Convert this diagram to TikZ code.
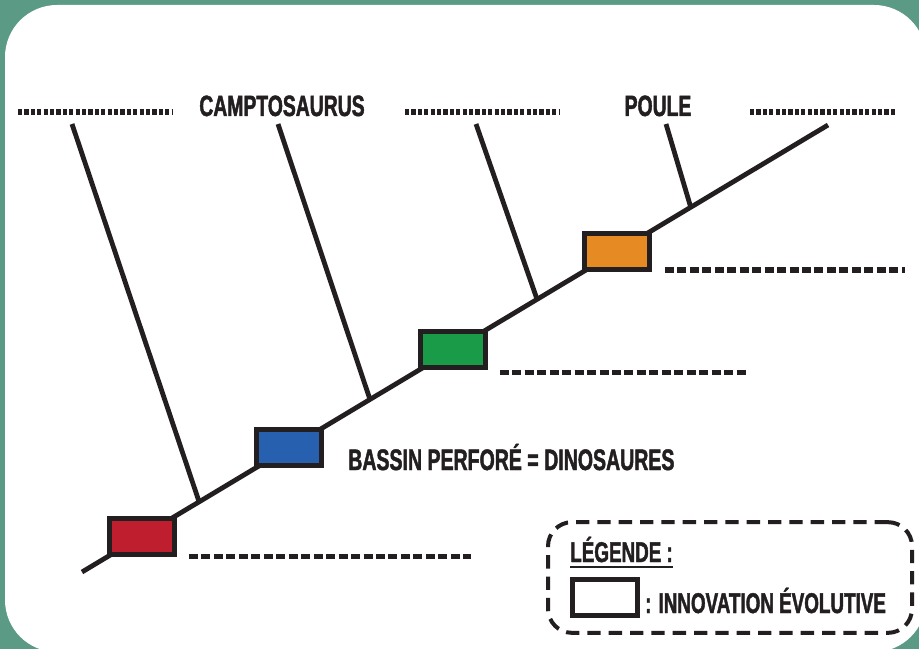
\documentclass[tikz,border=0pt]{standalone}
\usepackage{fontspec}
\newfontfamily\labelfont{Liberation Sans}[FakeStretch=0.66,FakeBold=1.5]
\usetikzlibrary{calc,positioning}
\definecolor{bggreen}{HTML}{5B9A85}
\definecolor{ink}{HTML}{231F20}
\definecolor{redbox}{HTML}{BE1E2D}
\definecolor{bluebox}{HTML}{2660AE}
\definecolor{greenbox}{HTML}{1A9B48}
\definecolor{orangebox}{HTML}{E68A23}

\begin{document}
\begin{tikzpicture}[x=0.75pt,y=-0.75pt,
    innov/.style={draw=ink,line width=3.75pt,minimum width=48.75pt,minimum height=27pt,inner sep=0pt},
    branch/.style={draw=ink,line width=3.6pt},
    blank/.style={draw=ink,line width=4pt,dash pattern=on 6.75pt off 2.6pt},
    dots/.style={draw=ink,line width=4.4pt,dash pattern=on 3.2pt off 1.6pt},
    taxon/.style={font=\labelfont\bfseries\fontsize{22}{22}\selectfont,text=ink,inner sep=0pt},
    legtext/.style={font=\labelfont\bfseries\fontsize{21.4}{21.4}\selectfont,text=ink,inner sep=0pt},
    legendbox/.style={draw=ink,line width=3pt,dash pattern=on 10pt off 6pt,rounded corners=18pt,
        minimum width=273pt,minimum height=83pt,inner sep=0pt}]
    \useasboundingbox (0,0) rectangle (919,649);
    \fill[bggreen] (0,0) rectangle (919,649);
    \fill[white,rounded corners=39pt] (5,5) rectangle (926,652);

    % taxons
    \draw[dots] (18,112) -- (173,112);
    \node[taxon,anchor=base] (camp) at (282,116) {CAMPTOSAURUS};
    \draw[dots] (405,112) -- (560,112);
    \node[taxon,anchor=base] (poule) at (658,116) {POULE};
    \draw[dots] (750,112) -- (895,112);

    % tronc
    \coordinate (root) at (82,572);
    \coordinate (tip) at (828,125);
    \draw[branch] (root) -- (tip);
    \coordinate (j1) at ($(root)!0.157!(tip)$);
    \coordinate (j2) at ($(root)!0.386!(tip)$);
    \coordinate (j3) at ($(root)!0.610!(tip)$);
    \coordinate (j4) at ($(root)!0.816!(tip)$);
    \draw[branch] (72,124) -- (j1);
    \draw[branch] (278,124) -- (j2);
    \draw[branch] (476,124) -- (j3);
    \draw[branch] (666,124) -- (j4);

    % innovations
    \path (root) -- (tip)
        node[innov,fill=redbox,pos=0.0804] (r) {}
        node[innov,fill=bluebox,pos=0.2775] (b) {}
        node[innov,fill=greenbox,pos=0.497] (g) {}
        node[innov,fill=orangebox,pos=0.717] (o) {};
    \draw[blank] ($(r.south east)+(12,0)$) -- ++(282,0);
    \draw[blank] ($(g.south east)+(12,2)$) -- ++(247,0);
    \draw[blank] ($(o.south east)+(13,-2)$) -- ++(240,0);
    \node[taxon,anchor=base west,font=\labelfont\bfseries\fontsize{22.2}{22.2}\selectfont] (bassin) at (348,470) {BASSIN PERFORÉ = DINOSAURES};

    % legende
    \node[legendbox] (leg) at (730,577.5) {};
    \node[legtext,anchor=base west] (legtitle) at (570,562) {LÉGENDE :};
    \draw[ink,line width=1.5pt] ([yshift=-3pt]legtitle.south west) -- ([yshift=-3pt]legtitle.south east);
    \node[innov,fill=white] (legbox) at (605,597) {};
    \node[legtext,anchor=base west] (legdef) at (645,613) {: INNOVATION ÉVOLUTIVE};
\end{tikzpicture}
\end{document}
